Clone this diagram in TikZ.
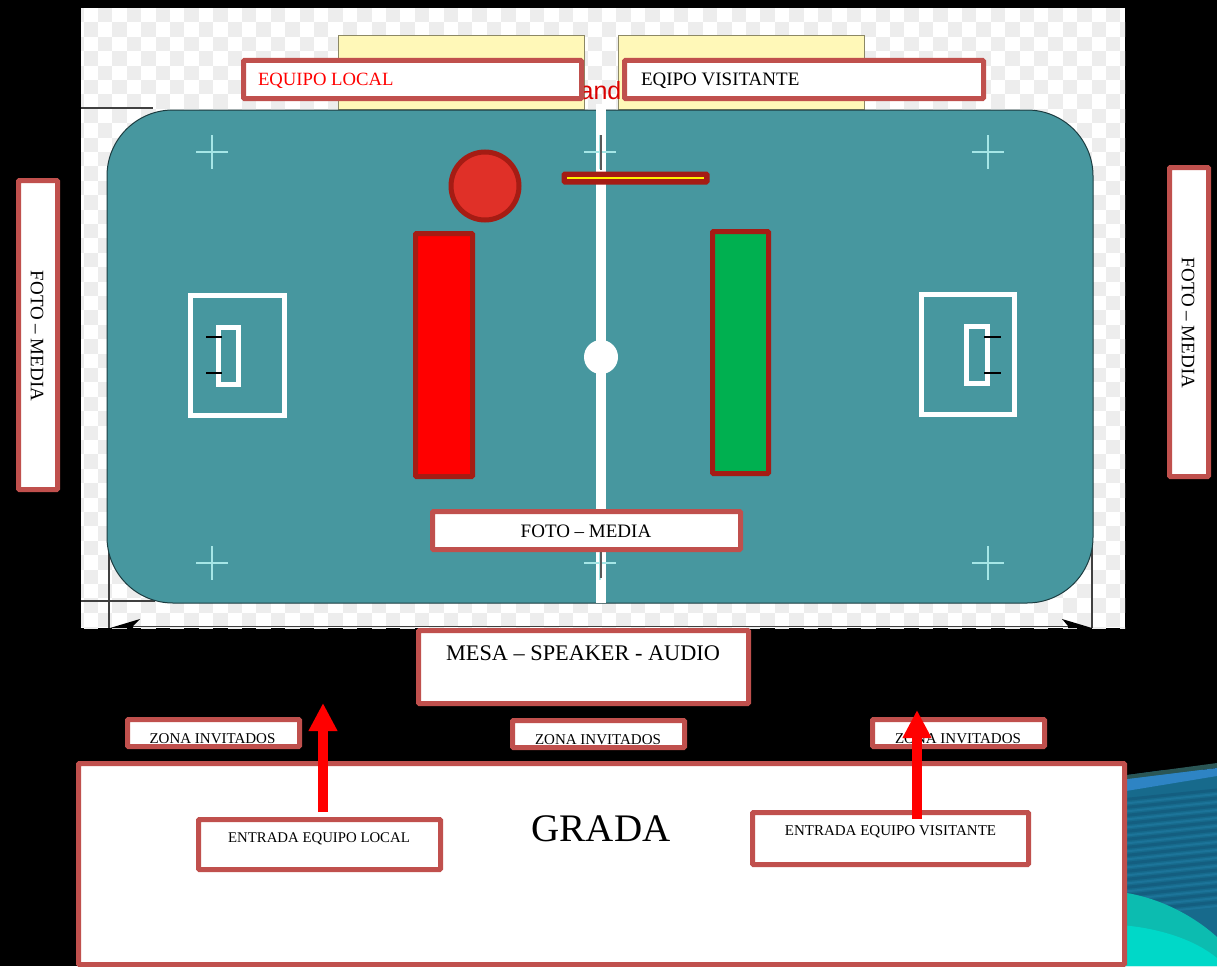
\documentclass[tikz,border=0pt]{standalone}
\usepackage{fontspec}
\setmainfont{Liberation Serif}
\newfontfamily\sansf{Liberation Sans}
\usetikzlibrary{arrows.meta}
\definecolor{edgered}{HTML}{C0504D}
\definecolor{darkred}{HTML}{A51C14}
\definecolor{teal1}{HTML}{47979F}
\definecolor{checker}{HTML}{EDEDED}
\definecolor{yel}{HTML}{FFF8B8}
\definecolor{crossc}{HTML}{A6E6E6}
\definecolor{ballc}{HTML}{E03028}
\definecolor{greenp}{HTML}{00B050}
\definecolor{wpbase}{HTML}{176A8C}
\definecolor{wpdark}{HTML}{145E80}
\definecolor{wplight}{HTML}{1C7499}
\definecolor{wptop}{HTML}{2A5655}
\definecolor{wpband}{HTML}{2E84C4}
\definecolor{wpcyan}{HTML}{00D8C8}
\definecolor{wpcyan2}{HTML}{0CBCB0}
\tikzset{
  x=1pt,y=-1pt,
  box/.style={draw=edgered,fill=white,line width=5pt,rounded corners=1pt,inner sep=0pt,outer sep=0pt},
  lbl/.style={inner sep=0pt,outer sep=0pt,text=black},
  yelbox/.style={draw=black!45!yel,fill=yel,line width=1pt,inner sep=0pt},
  cross/.style={draw=crossc,line width=1.2pt},
  dimln/.style={draw=black!75,line width=1.2pt},
  redarrow/.style={draw=red,line width=10pt,-{Triangle[length=28pt,width=27pt]}},
  player/.style={draw=darkred,line width=5pt,rounded corners=1pt,inner sep=0pt},
}
\begin{document}
\begin{tikzpicture}
\useasboundingbox (0,0) rectangle (1217,966);
\fill[black] (0,0) rectangle (1217,966);
% wallpaper, lower right
\begin{scope}
\clip (1120,776) -- (1217,763) -- (1217,966) -- (1120,966) -- cycle;
\fill[wpbase] (1120,770) rectangle (1217,966);
\foreach \yy in {0,1,...,14}{
  \draw[wpdark,line width=3pt] (1120,800+\yy*8) -- (1217,790+\yy*8);
  \draw[wplight,line width=2pt] (1120,804+\yy*8) -- (1217,794+\yy*8);
}
\fill[wptop] (1120,772) -- (1217,760) -- (1217,768) -- (1120,780) -- cycle;
\fill[wpband] (1120,780) -- (1217,768) -- (1217,776) -- (1120,792) -- cycle;
\fill[wpcyan2] (1120,892) .. controls (1160,897) and (1195,917) .. (1217,937) -- (1217,966) -- (1120,966) -- cycle;
\fill[wpcyan] (1120,925) .. controls (1160,928) and (1195,940) .. (1217,958) -- (1217,966) -- (1120,966) -- cycle;
\end{scope}
% checkered sheet
\begin{scope}
\clip (81,8) rectangle (1125,628);
\fill[white] (81,8) rectangle (1125,628);
\foreach \ii in {-1,0,...,72}{
  \foreach \jj in {0,1,...,43}{
    \pgfmathtruncatemacro{\oddcell}{mod(\ii+\jj+100,2)}
    \ifnum\oddcell=1
      \fill[checker] ({83.5+\ii*14.4},{8+\jj*14.4}) rectangle ++(14.4,14.4);
    \fi
  }
}
\draw[dimln] (81,108) -- (153,108);
\draw[dimln] (81,601) -- (155,601);
\draw[dimln] (109,530) -- (109,628);
\draw[dimln] (1092,530) -- (1092,628);
\draw[dimln] (133,626.5) -- (1068,626.5);
\fill[black] (110,628) -- (140,619) -- (133,626) -- (133,628) -- cycle;
\fill[black] (1092,628) -- (1062,619) -- (1068,626) -- (1068,628) -- cycle;
\end{scope}
% yellow benches behind the labels
\node[yelbox,minimum width=246pt,minimum height=73pt] (benchL) at (461,72.5) {};
\node[yelbox,minimum width=246pt,minimum height=73pt] (benchR) at (741,72.5) {};
\node[inner sep=0pt,text=red!85!black,font=\sansf\fontsize{25}{25}\selectfont] (bandw) at (600.5,91) {and};
% court
\fill[teal1,draw=black!60!teal1,line width=1pt,rounded corners=66pt] (107,110) rectangle (1093,603);
\draw[draw=white,line width=10pt] (601,104) -- (601,603);
\node[circle,fill=white,minimum size=34pt,inner sep=0pt] (spot) at (601,357) {};
\foreach \cx/\cy in {212/152,600/152,988/152,212/563,600/563,988/563}{
  \draw[cross] (\cx-16,\cy) -- (\cx+16,\cy) (\cx,\cy-17) -- (\cx,\cy+17);
}
\draw[draw=black!65,line width=1.4pt] (601,135) -- (601,170) (601,548) -- (601,578);
% goals
\node[draw=white,line width=5.5pt,minimum width=94pt,minimum height=120pt,inner sep=0pt] (goalL) at (237.5,355.5) {};
\node[draw=white,line width=5.5pt,minimum width=20pt,minimum height=57pt,inner sep=0pt] (keepL) at (228.5,356) {};
\node[draw=white,line width=5.5pt,minimum width=93pt,minimum height=120pt,inner sep=0pt] (goalR) at (968,354.5) {};
\node[draw=white,line width=5.5pt,minimum width=21pt,minimum height=57pt,inner sep=0pt] (keepR) at (977,355) {};
\draw[black,line width=2pt] (206,337) -- (222,337) (206,373) -- (222,373)
  (984,337) -- (1001,337) (984,373) -- (1001,373);
% players
\node[circle,draw=darkred,fill=ballc,line width=5pt,minimum size=68pt,inner sep=0pt] (ball) at (485,186) {};
\node[player,fill=darkred,minimum width=143pt,minimum height=8pt] (bar) at (635.5,178) {};
\draw[yellow,line width=1.6pt] (567,178) -- (704,178);
\node[player,fill=red,minimum width=57pt,minimum height=243pt] (homeP) at (444,355) {};
\node[player,fill=greenp,minimum width=56pt,minimum height=242pt] (awayP) at (740.5,352.5) {};
% labels
\node[box,minimum width=338pt,minimum height=38pt] (local) at (412.5,79.5) {};
\node[lbl,anchor=west,text=red,font=\fontsize{18.7}{19}\selectfont] (localT) at (258,81) {EQUIPO LOCAL};
\node[box,minimum width=359pt,minimum height=38pt] (visit) at (804,79.5) {};
\node[lbl,anchor=west,font=\fontsize{19}{19}\selectfont] (visitT) at (641,81) {EQIPO VISITANTE};
\node[box,minimum width=39pt,minimum height=309pt] (fotoL) at (38,335) {};
\node[lbl,rotate=-90,font=\fontsize{19}{19}\selectfont] (fotoLT) at (37,336) {FOTO – MEDIA};
\node[box,minimum width=39pt,minimum height=309pt] (fotoR) at (1189,322) {};
\node[lbl,rotate=-90,font=\fontsize{19}{19}\selectfont] (fotoRT) at (1188,323) {FOTO – MEDIA};
\node[box,minimum width=308pt,minimum height=38pt] (fotoC) at (586.5,530.5) {};
\node[lbl,font=\fontsize{19}{19}\selectfont] (fotoCT) at (586,531) {FOTO – MEDIA};
\node[box,minimum width=330pt,minimum height=73pt] (mesa) at (583.5,667) {};
\node[lbl,font=\fontsize{22.3}{22.3}\selectfont] (mesaT) at (583,653) {MESA – SPEAKER - AUDIO};
\node[box,minimum width=172pt,minimum height=27pt] (zona1) at (213.5,733) {};
\node[lbl,font=\fontsize{15}{15}\selectfont] (zona1T) at (212.5,739) {ZONA INVITADOS};
\node[box,minimum width=172pt,minimum height=27pt] (zona2) at (598.5,734) {};
\node[lbl,font=\fontsize{15}{15}\selectfont] (zona2T) at (598,740) {ZONA INVITADOS};
\node[box,minimum width=172pt,minimum height=27pt] (zona3) at (958.5,733) {};
\node[lbl,font=\fontsize{15}{15}\selectfont] (zona3T) at (958,739) {ZONA INVITADOS};
\node[box,minimum width=1046pt,minimum height=201pt,anchor=north west] (grada) at (78.5,763.5) {};
\node[lbl,font=\fontsize{39}{39}\selectfont] (gradaT) at (601,829) {GRADA};
\node[box,minimum width=242pt,minimum height=50pt] (entL) at (319.5,844.5) {};
\node[lbl,font=\fontsize{14.8}{14.8}\selectfont] (entLT) at (319,839) {ENTRADA EQUIPO LOCAL};
\node[box,minimum width=276pt,minimum height=52pt] (entR) at (890.5,838.5) {};
\node[lbl,font=\fontsize{15}{15}\selectfont] (entRT) at (890.5,832) {ENTRADA EQUIPO VISITANTE};
% arrows
\coordinate (arrL0) at (323,812);
\coordinate (arrL1) at (323,703);
\coordinate (arrR0) at (917,819);
\coordinate (arrR1) at (917,710);
\draw[redarrow] (arrL0) -- (arrL1);
\draw[redarrow] (arrR0) -- (arrR1);
\end{tikzpicture}
\end{document}
